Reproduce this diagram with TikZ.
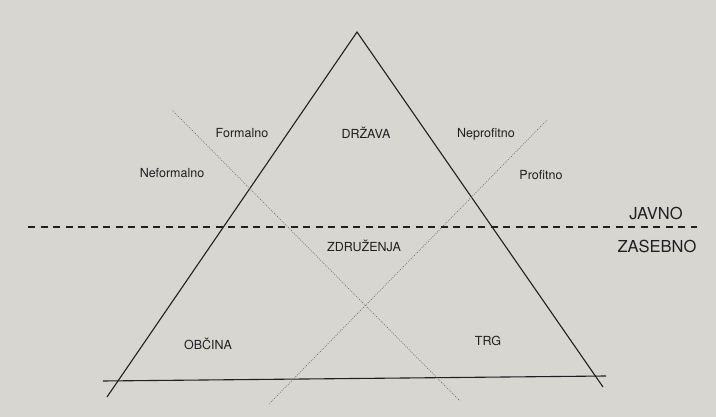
\documentclass[tikz,border=0pt]{standalone}
\usepackage{fontspec}
\setmainfont{TeX Gyre Heros}
\definecolor{paper}{RGB}{216,214,209}
\definecolor{ink}{RGB}{32,32,32}
\definecolor{dotink}{RGB}{95,95,95}
\begin{document}
\begin{tikzpicture}[x=1pt,y=-1pt,
  side/.style={draw=ink,line width=1.1pt},
  dotline/.style={draw=dotink,line width=0.7pt,dash pattern=on 0.7pt off 1.5pt},
  dashline/.style={draw=ink,line width=1.2pt,dash pattern=on 7pt off 5.5pt},
  lab/.style={text=ink,font=\fontsize{12.5}{14}\selectfont,inner sep=0pt},
  biglab/.style={text=ink,font=\fontsize{16.5}{18}\selectfont,inner sep=0pt}]
\fill[paper] (0,0) rectangle (716,417);
\useasboundingbox (0,0) rectangle (716,417);
% triangle
\coordinate (apex) at (357,32);
\coordinate (lend) at (107,397);
\coordinate (rend) at (603,387);
\coordinate (bl) at (103,381);
\coordinate (br) at (606,376);
\draw[side] (lend) -- (apex) -- (rend);
\draw[side] (bl) -- (br);
% dotted diagonals
\coordinate (d1a) at (172,110);
\coordinate (d1b) at (460,401);
\coordinate (d2a) at (547,120);
\coordinate (d2b) at (269,404);
\draw[dotline] (d1a) -- (d1b);
\draw[dotline] (d2a) -- (d2b);
% dashed divider
\coordinate (dl) at (28,227);
\coordinate (dr) at (697,227);
\draw[dashline] (dl) -- (dr);
% labels
\node[lab] (formalno) at (242,133) {Formalno};
\node[lab] (drzava) at (366,133) {DRŽAVA};
\node[lab] (neprofitno) at (486,134) {Neprofitno};
\node[lab] (neformalno) at (172,173) {Neformalno};
\node[lab] (profitno) at (541,175) {Profitno};
\node[lab] (zdruzenja) at (364,246) {ZDRUŽENJA};
\node[lab] (obcina) at (208,344) {OBČINA};
\node[lab] (trg) at (488,341) {TRG};
\node[biglab] (javno) at (656,213) {JAVNO};
\node[biglab] (zasebno) at (657,246) {ZASEBNO};
\end{tikzpicture}
\end{document}
